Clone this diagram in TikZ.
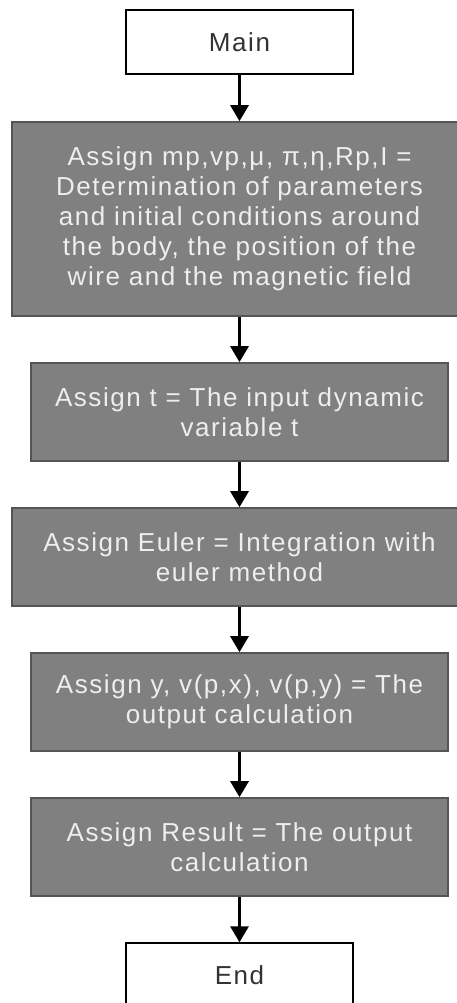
\documentclass[tikz,border=0pt]{standalone}
\usepackage{fontspec}
\setmainfont[LetterSpace=6]{Liberation Sans}
\usetikzlibrary{arrows.meta}
\definecolor{boxfill}{HTML}{808080}
\definecolor{boxline}{HTML}{555555}
\definecolor{boxtext}{HTML}{EEEEEE}
\definecolor{termtext}{HTML}{333333}
\begin{document}
\begin{tikzpicture}[x=1pt,y=1pt,
  stepbox/.style={draw=boxline, line width=1.6pt, fill=boxfill, text=boxtext,
    inner sep=0pt, align=center, font=\fontsize{26}{30}\selectfont},
  termbox/.style={draw=black, line width=1.4pt, fill=white, text=termtext,
    inner sep=0pt, align=center, font=\fontsize{26}{30}\selectfont,
    minimum width=227pt, minimum height=64pt},
  arr/.style={line width=3pt, draw=black, -{Triangle[width=18pt,length=16pt]}}
]
\useasboundingbox (0,0) rectangle (457,-1003);
\node[termbox] (main) at (239.5,-42) {Main};
\node[stepbox, minimum width=455pt, minimum height=194pt] (b1) at (239.5,-219)
  {Assign mp,vp,μ, π,η,Rp,I =\\Determination of parameters\\and initial conditions around\\the body, the position of the\\wire and the magnetic field};
\node[stepbox, minimum width=417pt, minimum height=98pt] (b2) at (239.5,-412)
  {Assign t = The input dynamic\\variable t};
\node[stepbox, minimum width=455pt, minimum height=98pt] (b3) at (239.5,-557)
  {Assign Euler = Integration with\\euler method};
\node[stepbox, minimum width=417pt, minimum height=98pt] (b4) at (239.5,-702)
  {Assign y, v(p,x), v(p,y) = The\\output calculation};
\node[stepbox, minimum width=417pt, minimum height=98pt] (b5) at (239.5,-847)
  {Assign Result = The output\\calculation};
\node[termbox] (end) at (239.5,-975) {End};
\draw[arr] (main.south) -- (b1.north);
\draw[arr] (b1.south) -- (b2.north);
\draw[arr] (b2.south) -- (b3.north);
\draw[arr] (b3.south) -- (b4.north);
\draw[arr] (b4.south) -- (b5.north);
\draw[arr] (b5.south) -- (end.north);
\end{tikzpicture}
\end{document}
